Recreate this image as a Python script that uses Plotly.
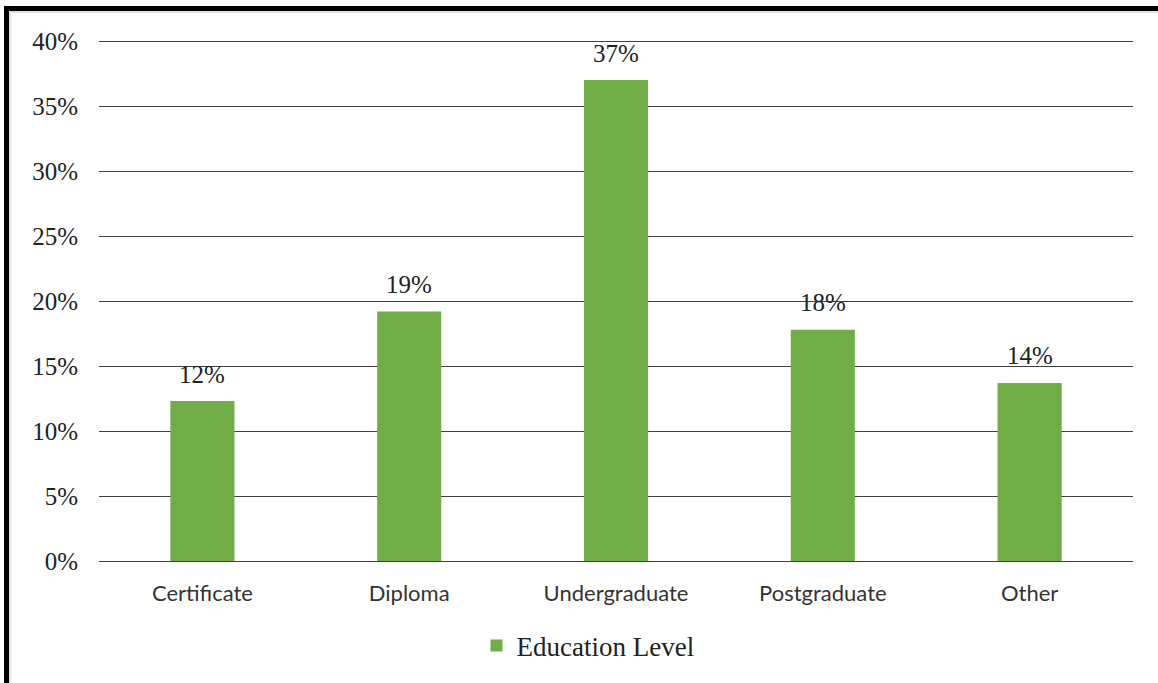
import plotly.graph_objects as go

categories = ["Certificate", "Diploma", "Undergraduate", "Postgraduate", "Other"]
shares = [0.123, 0.192, 0.370, 0.178, 0.137]
series_name = "Education Level"
y_ticks = [0, 0.05, 0.10, 0.15, 0.20, 0.25, 0.30, 0.35, 0.40]

W, H = 1158, 683
ML, MR, MT, MB = 99, 25, 39, 122
plot_w = W - ML - MR
plot_h = H - MT - MB

serif = "Liberation Serif, Times New Roman, serif"
sans = "Lato, Calibri, sans-serif"

fig = go.Figure()
fig.add_trace(go.Bar(
    x=categories,
    y=shares,
    name=series_name,
    marker=dict(color="#70AD47", line=dict(width=0)),
    showlegend=True,
))

# value labels above each bar
for cat, val in zip(categories, shares):
    fig.add_annotation(
        x=cat, y=val, xref="x", yref="y",
        text=f"{val:.0%}",
        showarrow=False,
        yanchor="middle",
        yshift=27,
        font=dict(family=serif, size=25, color="#222222"),
    )

# outer frame: heavy black edge on left and top, thin grey inner edge
def px_x(p):
    return (p - ML) / plot_w

def px_y(p):
    return (H - MB - p) / plot_h

frame = [
    dict(type="line", xref="paper", yref="paper", x0=px_x(6.5), x1=px_x(6.5), y0=px_y(6), y1=px_y(H + 5),
         line=dict(color="black", width=5)),
    dict(type="line", xref="paper", yref="paper", x0=px_x(4), x1=px_x(W + 5), y0=px_y(8.5), y1=px_y(8.5),
         line=dict(color="black", width=5)),
    dict(type="line", xref="paper", yref="paper", x0=px_x(10), x1=px_x(10), y0=px_y(11), y1=px_y(H + 5),
         line=dict(color="#d9d9d9", width=1.5)),
    dict(type="line", xref="paper", yref="paper", x0=px_x(10), x1=px_x(W + 5), y0=px_y(12), y1=px_y(12),
         line=dict(color="#d9d9d9", width=1.5)),
]

fig.update_layout(
    width=W,
    height=H,
    margin=dict(l=ML, r=MR, t=MT, b=MB),
    paper_bgcolor="white",
    plot_bgcolor="white",
    bargap=0.69,
    shapes=frame,
    legend=dict(
        orientation="h",
        x=px_x(588),
        xanchor="center",
        y=px_y(646),
        yanchor="middle",
        font=dict(family=serif, size=27, color="#222222"),
        itemwidth=30,
        itemsizing="constant",
    ),
    xaxis=dict(
        showgrid=False,
        showline=False,
        ticks="",
        tickfont=dict(family=sans, size=22, color="#333333"),
        ticklabelstandoff=17,
    ),
    yaxis=dict(
        range=[0, 0.4016],
        tickvals=y_ticks,
        tickformat=".0%",
        showgrid=True,
        gridcolor="#404040",
        gridwidth=1.3,
        zeroline=True,
        zerolinecolor="#404040",
        zerolinewidth=1.3,
        showline=False,
        ticks="",
        tickfont=dict(family=serif, size=25, color="#222222"),
        ticklabelstandoff=20,
    ),
)

fig.write_html("out.html")
